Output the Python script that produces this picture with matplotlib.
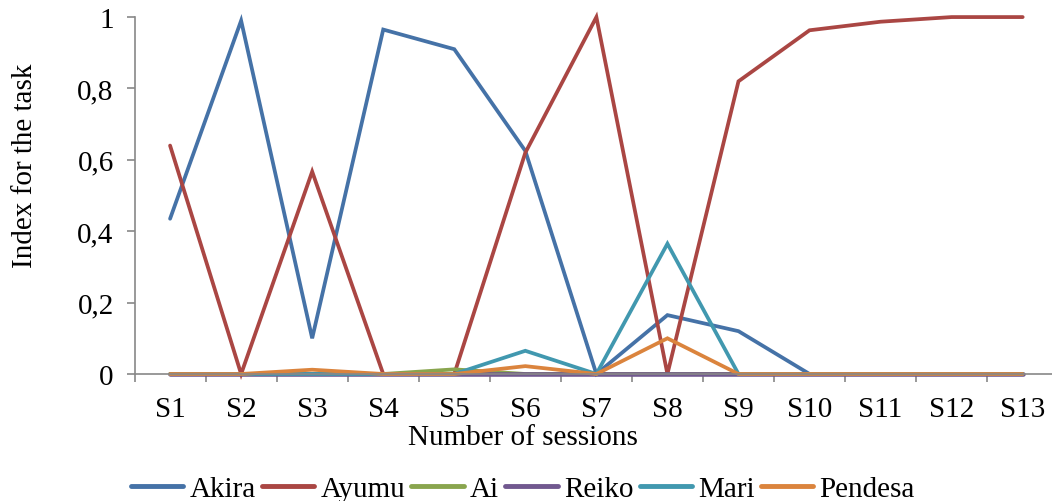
import matplotlib
matplotlib.use("Agg")
import matplotlib.pyplot as plt
from matplotlib.ticker import FuncFormatter, FixedLocator

sessions = ["S1", "S2", "S3", "S4", "S5", "S6", "S7", "S8", "S9", "S10", "S11", "S12", "S13"]
akira   = [0.435, 0.99, 0.10, 0.965, 0.91, 0.625, 0.0, 0.165, 0.12, 0.0, 0.0, 0.0, 0.0]
ayumu   = [0.64, 0.0, 0.567, 0.0, 0.0, 0.62, 1.0, 0.0, 0.82, 0.963, 0.987, 1.0, 1.0]
ai      = [0.0, 0.0, 0.0, 0.0, 0.013, 0.0, 0.0, 0.0, 0.0, 0.0, 0.0, 0.0, 0.0]
reiko   = [0.0] * 13
mari    = [0.0, 0.0, 0.0, 0.0, 0.0, 0.065, 0.0, 0.365, 0.0, 0.0, 0.0, 0.0, 0.0]
pendesa = [0.0, 0.0, 0.012, 0.0, 0.0, 0.022, 0.0, 0.10, 0.0, 0.0, 0.0, 0.0, 0.0]

series = [
    ("Akira", akira, "#4572A7", 2.7),
    ("Ayumu", ayumu, "#AA4643", 2.7),
    ("Ai", ai, "#89A54E", 2.7),
    ("Reiko", reiko, "#71588F", 3.3),
    ("Mari", mari, "#4198AF", 2.7),
    ("Pendesa", pendesa, "#DB843D", 2.7),
]

plt.rcParams['font.family'] = ['Liberation Serif', 'DejaVu Serif']
FS = 21

fig = plt.figure(figsize=(10.52, 5.02), dpi=100)
ax = fig.add_axes([0.1279, 0.253, 0.878, 0.711])

x = list(range(1, len(sessions) + 1))
for name, vals, col, lw in series:
    ax.plot(x, vals, color=col, lw=lw, label=name, solid_capstyle='round',
            solid_joinstyle='miter', clip_on=False)

ax.set_xlim(0.5, len(sessions) + 0.5)
ax.set_ylim(0, 1)
ax.set_xticks(x)
ax.set_xticklabels(sessions)
ax.xaxis.set_minor_locator(FixedLocator([i + 0.5 for i in range(0, len(sessions) + 1)]))
ax.tick_params(axis='x', which='major', length=0, labelsize=FS, pad=16)
ax.tick_params(axis='x', which='minor', length=6, color='#888888', width=1.2, direction='out')
ax.set_yticks([0, 0.2, 0.4, 0.6, 0.8, 1.0])
ax.yaxis.set_major_formatter(FuncFormatter(lambda v, p: ("%g" % round(v, 1)).replace('.', ',')))
ax.tick_params(axis='y', length=6, color='#888888', width=1.2, direction='out', labelsize=FS, pad=9)

for s in ['top', 'right']:
    ax.spines[s].set_visible(False)
for s in ['left', 'bottom']:
    ax.spines[s].set_color('#888888')
    ax.spines[s].set_linewidth(1.2)

ax.set_ylabel("Index for the task", fontsize=FS)
ax.yaxis.set_label_coords(-0.104, 0.585)
ax.set_xlabel("Number of sessions", fontsize=FS)
ax.xaxis.set_label_coords(0.421, -0.14)

leg = fig.legend(loc='lower center', bbox_to_anchor=(0.497, -0.054), ncol=6, frameon=False,
                 fontsize=FS, handlelength=1.8, handletextpad=0.2, columnspacing=0.22)
for h in leg.get_lines():
    h.set_linewidth(3.5)

fig.savefig("out.png", dpi=100)
